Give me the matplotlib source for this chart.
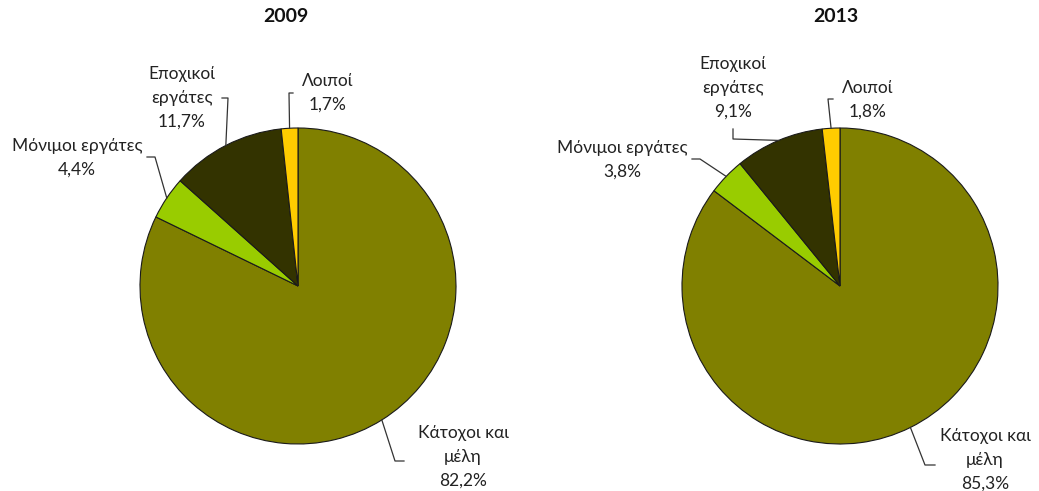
import numpy as np
import matplotlib
matplotlib.use("Agg")
import matplotlib.pyplot as plt

# ---- data ----
years = ["2009", "2013"]
categories = ["Κάτοχοι και\nμέλη", "Μόνιμοι εργάτες", "Εποχικοί\nεργάτες", "Λοιποί"]
values_2009 = [82.2, 4.4, 11.7, 1.7]
values_2013 = [85.3, 3.8, 9.1, 1.8]
colors = ["#808000", "#99CC00", "#333300", "#FFCC00"]

# ---- layout (pixel coordinates, y downward) ----
W, H = 1039, 491
centers = [(298, 286), (840, 286)]
radius = 158
title_pos = [(286, 16), (836, 16)]
# label centre positions per pie, per category
label_pos = [
    [(463, 457), (77, 158), (182, 98), (328, 93)],
    [(985, 460), (622, 160), (733, 88), (868, 100)],
]
# leader polylines (text side points), final point is the slice edge at mid-angle
leaders = [
    [[(404, 461), (395, 461)], [(147, 157), (155, 157)], [(222, 98), (228, 98)], [(293, 93), (289, 93)]],
    [[(935, 465), (925, 465)], [(692, 159), (700, 159)], [(733, 129), (733, 139)], [(833, 99), (828, 99)]],
]

fig = plt.figure(figsize=(W / 100, H / 100), dpi=100)
ax = fig.add_axes([0, 0, 1, 1])
font = ["Lato", "DejaVu Sans"]

for i, vals in enumerate([values_2009, values_2013]):
    cx, cy = centers[i]
    wedges, _ = ax.pie(vals, colors=colors, center=(cx, cy), radius=radius,
                       startangle=270, counterclock=True, frame=True,
                       wedgeprops=dict(edgecolor="#1a1a1a", linewidth=0.8))
    ax.text(*title_pos[i], years[i], ha="center", va="center", fontsize=14,
            fontweight="bold", family=font, color="#111111")
    for j, w in enumerate(wedges):
        mid = np.deg2rad((w.theta1 + w.theta2) / 2)
        ex, ey = cx + radius * np.cos(mid), cy + radius * np.sin(mid)
        pts = leaders[i][j] + [(ex, ey)]
        ax.plot([p[0] for p in pts], [p[1] for p in pts], color="#333333", lw=0.9)
        txt = f"{categories[j]}\n{vals[j]:.1f}%".replace(".", ",")
        ax.text(*label_pos[i][j], txt, ha="center", va="center", fontsize=12.5,
                family=font, color="#222222", linespacing=1.6)

ax.set_xlim(0, W)
ax.set_ylim(H, 0)
ax.set_aspect("equal")
ax.axis("off")
fig.savefig("out.png", dpi=100, facecolor="white")
